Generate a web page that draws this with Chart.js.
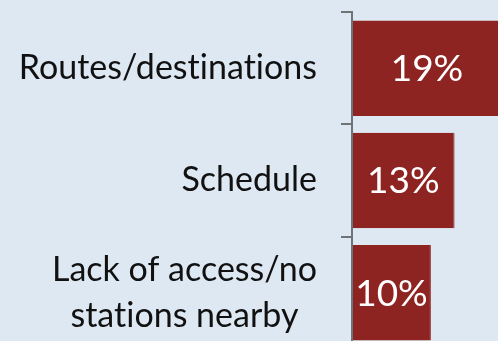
<!DOCTYPE html>
<html>
<head>
<meta charset="utf-8">
<script src="https://cdn.jsdelivr.net/npm/chart.js@4/dist/chart.umd.min.js"></script>
<style>
  html, body { margin: 0; padding: 0; overflow: hidden; background: #dee8f3; }
  #wrap { position: relative; width: 498px; height: 360px; }
</style>
</head>
<body>
<div id="wrap"><canvas id="chart"></canvas></div>
<script>
// reasons people gave, share of answers in percent
var categories = ["Routes/destinations", "Schedule", ["Lack of access/no", "stations nearby"]];
var values = [19, 13, 10];

var barColor = "#8e2421";
var axisColor = "#6e7378";
var fontName = "Lato, 'Open Sans', sans-serif";

// white value labels in the middle of each bar
var valueLabels = {
  id: "valueLabels",
  afterDatasetsDraw: function (chart) {
    var ctx = chart.ctx;
    var meta = chart.getDatasetMeta(0);
    ctx.save();
    ctx.fillStyle = "#ffffff";
    ctx.font = "37px " + fontName;
    ctx.textAlign = "center";
    ctx.textBaseline = "middle";
    meta.data.forEach(function (bar, i) {
      ctx.fillText(values[i] + "%", (bar.x + bar.base) / 2, bar.y + 1);
    });
    ctx.restore();
  }
};

// category names, right aligned as a block, lines centred inside the block
var categoryLabels = {
  id: "categoryLabels",
  afterDraw: function (chart) {
    var ctx = chart.ctx;
    var yScale = chart.scales.y;
    var lineHeight = 46;
    ctx.save();
    ctx.fillStyle = "#111111";
    ctx.font = "34px " + fontName;
    ctx.letterSpacing = "0.01px"; // keeps "ti" from turning into a ligature
    ctx.textAlign = "center";
    ctx.textBaseline = "middle";
    categories.forEach(function (label, i) {
      var lines = Array.isArray(label) ? label : [label];
      var widest = 0;
      lines.forEach(function (l) { widest = Math.max(widest, ctx.measureText(l).width); });
      var cx = yScale.right - 35 - widest / 2;
      var cy = yScale.getPixelForTick(i) - (lines.length - 1) * lineHeight / 2;
      lines.forEach(function (l, j) {
        ctx.fillText(l, cx, cy + j * lineHeight);
      });
    });
    ctx.restore();
  }
};

var chart = new Chart(document.getElementById("chart"), {
  type: "bar",
  data: {
    labels: categories,
    datasets: [{
      data: values,
      backgroundColor: barColor,
      borderColor: "#9a3432",
      borderWidth: { right: 1 },
      borderSkipped: "left",
      barPercentage: 0.85,
      categoryPercentage: 1
    }]
  },
  options: {
    indexAxis: "y",
    responsive: true,
    maintainAspectRatio: false,
    animation: false,
    layout: { padding: { top: 12, bottom: 11, left: 0, right: 0 } },
    plugins: {
      legend: { display: false },
      tooltip: { enabled: false }
    },
    scales: {
      x: {
        display: false,
        min: 0,
        max: 18.5
      },
      y: {
        position: "left",
        offset: true,
        afterFit: function (scale) { scale.width = 352; },
        ticks: { display: false },
        grid: {
          offset: true,
          drawOnChartArea: false,
          drawTicks: true,
          tickLength: 11,
          lineWidth: 2,
          color: axisColor
        },
        border: { display: true, color: axisColor, width: 2, z: 1 }
      }
    }
  },
  plugins: [valueLabels, categoryLabels]
});
</script>
</body>
</html>
